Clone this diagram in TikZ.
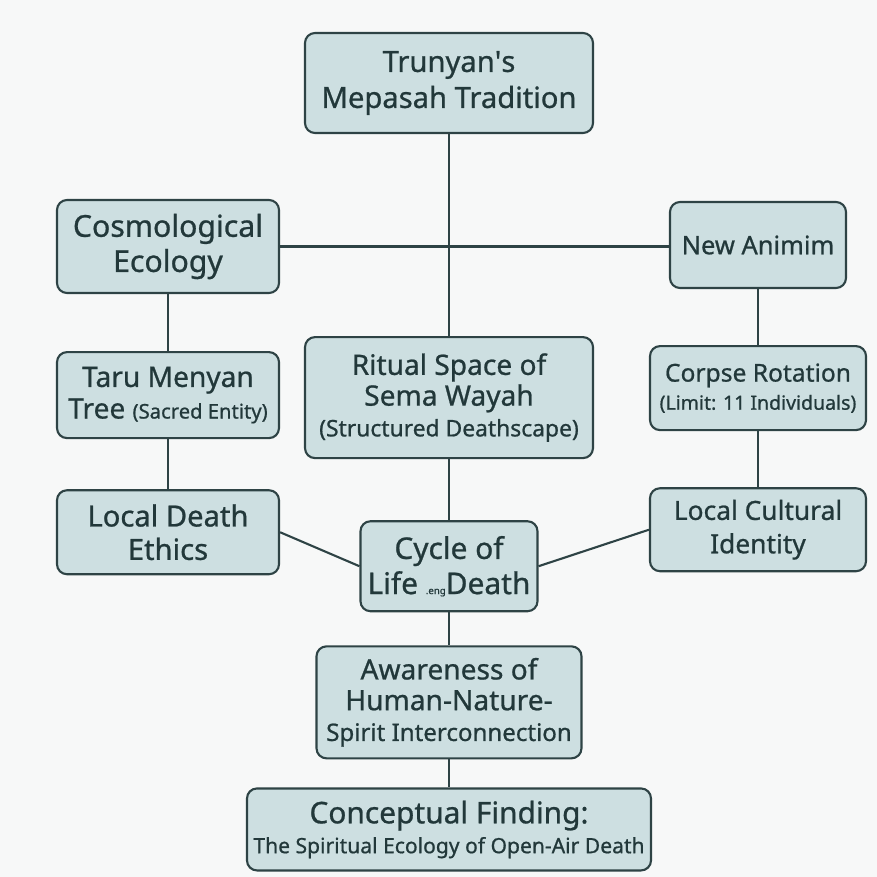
\documentclass[tikz,border=0pt]{standalone}
\usepackage{fontspec}
\setmainfont[FakeBold=0.8]{Noto Sans}
\usepackage{xcolor}
\usetikzlibrary{positioning}

\definecolor{boxfill}{HTML}{CDDFE1}
\definecolor{boxline}{HTML}{2E4345}
\definecolor{boxtext}{HTML}{22383A}
\definecolor{paper}{HTML}{F7F8F8}

\begin{document}
\begin{tikzpicture}[
    block/.style={
        rectangle,
        rounded corners=0.2cm,
        draw=boxline,
        line width=1.2pt,
        fill=boxfill,
        text=boxtext,
        align=center,
        inner sep=2pt
    },
    link/.style={
        draw=boxline,
        line width=1.2pt
    }
]
% PAPER
\fill[paper] (0,0) rectangle (17.54,-17.54);
% CENTRE COLUMN
\node (trad) [block, minimum width=5.76cm, minimum height=2.0cm,
    font=\fontsize{16.6}{20.5}\selectfont] at (8.98,-1.66) {Trunyan\textquotesingle s\\Mepasah Tradition};
\node (ritual) [block, minimum width=5.76cm, minimum height=2.42cm, below=4.04cm of trad,
    font=\fontsize{16}{17.5}\selectfont]
    {Ritual Space of\\Sema Wayah\\{\fontsize{13}{17.5}\selectfont (Structured Deathscape)}};
\node (cycle) [block, minimum width=3.54cm, minimum height=1.8cm, below=1.22cm of ritual,
    font=\fontsize{17}{20}\selectfont]
    {Cycle of\\Life {\fontsize{5.5}{6}\selectfont .eng}Death};
\node (aware) [block, minimum width=5.3cm, minimum height=2.24cm, below=0.66cm of cycle,
    font=\fontsize{16}{17.5}\selectfont]
    {Awareness of\\Human-Nature-\\{\fontsize{13.7}{17.5}\selectfont Spirit Interconnection}};
\node (finding) [block, minimum width=8.08cm, minimum height=1.64cm, below=0.56cm of aware,
    font=\fontsize{17}{17}\selectfont]
    {Conceptual Finding:\\{\fontsize{12}{17}\selectfont The Spiritual Ecology of Open-Air Death}};
% LEFT COLUMN
\node (cosmo) [block, minimum width=4.44cm, minimum height=1.86cm,
    font=\fontsize{17.2}{20}\selectfont] at (3.36,-4.93) {Cosmological\\Ecology};
\node (taru) [block, minimum width=4.44cm, minimum height=1.72cm, below=1.14cm of cosmo,
    font=\fontsize{16}{18}\selectfont]
    {Taru Menyan\\Tree {\fontsize{11.5}{18}\selectfont (Sacred Entity)}};
\node (ethics) [block, minimum width=4.44cm, minimum height=1.68cm, below=1.0cm of taru,
    font=\fontsize{16.6}{19}\selectfont] {Local Death\\Ethics};
% RIGHT COLUMN
\node (animim) [block, minimum width=3.52cm, minimum height=1.72cm,
    font=\fontsize{14.5}{17}\selectfont] at (15.16,-4.90) {New Animim};
\node (corpse) [block, minimum width=4.32cm, minimum height=1.68cm, below=1.12cm of animim,
    font=\fontsize{14}{16}\selectfont]
    {Corpse Rotation\\{\fontsize{11.1}{16}\selectfont (Limit: 11 Individuals)}};
\node (ident) [block, minimum width=4.32cm, minimum height=1.66cm, below=1.12cm of corpse,
    font=\fontsize{15}{19}\selectfont] {Local Cultural\\Identity};
% CONNECTORS
\draw [link] (trad.south) -- (ritual.north);
\draw [link] (cosmo.east) -- (cosmo.east -| animim.west);
\draw [link] (cosmo.south) -- (taru.north);
\draw [link] (taru.south) -- (ethics.north);
\draw [link] (animim.south) -- (corpse.north);
\draw [link] (corpse.south) -- (ident.north);
\draw [link] (ritual.south) -- (cycle.north);
\draw [link] (ethics.east) -- (cycle.west);
\draw [link] (ident.west) -- (cycle.east);
\draw [link] (cycle.south) -- (aware.north);
\draw [link] (aware.south) -- (finding.north);
\end{tikzpicture}
\end{document}
